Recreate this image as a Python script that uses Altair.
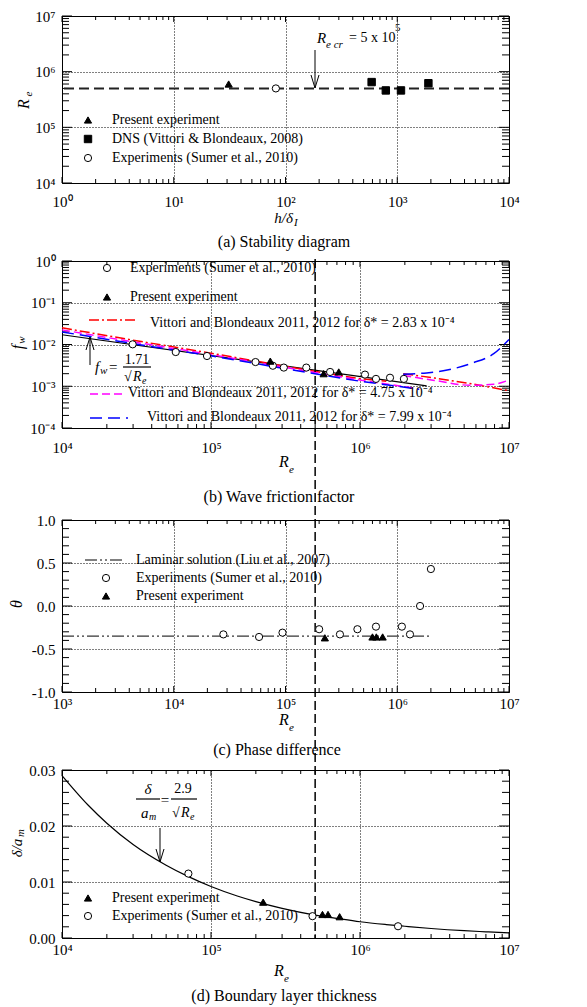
import altair as alt
import pandas as pd

FONT = "Liberation Serif, Times New Roman, serif"

# ---------------- data ----------------
# (a) Stability diagram
a_present_h = [31]
a_present_re = [6.0e5]
a_dns_h = [590, 790, 1080, 1900]
a_dns_re = [6.5e5, 4.6e5, 4.6e5, 6.2e5]
a_sumer_h = [82]
a_sumer_re = [5.0e5]
re_critical = [5e5]

# (b) Wave friction factor
b_sumer_re = [2.98e4, 5.8e4, 9.4e4, 1.99e5, 2.6e5, 3.08e5, 4.36e5, 6.3e5, 1.08e6, 1.28e6, 1.59e6, 1.97e6]
b_sumer_fw = [0.0101, 0.0066, 0.0053, 0.0038, 0.0031, 0.0028, 0.0028, 0.0022, 0.0019, 0.0015, 0.0016, 0.0015]
b_present_re = [2.5e5, 5.7e5, 7.2e5]
b_present_fw = [0.0040, 0.0020, 0.0022]
b_black_re = [1e4, 2.8e6]
b_black_fw = [0.0171, 0.00102]
red_lo_re = [1e4, 3.16e4, 1e5, 3.16e5, 1e6, 1.5e6]
red_lo_fw = [0.0251, 0.0123, 0.0062, 0.0030, 0.00151, 0.00132]
red_hi_re = [1.95e6, 3.16e6, 5.6e6, 1e7]
red_hi_fw = [0.00200, 0.00158, 0.00115, 0.00078]
mag_lo_re = [1e4, 3.16e4, 1e5, 3.16e5, 1e6, 2.45e6]
mag_lo_fw = [0.0224, 0.0112, 0.00575, 0.00282, 0.00141, 0.00087]
mag_hi_re = [1.95e6, 3.16e6, 5.6e6, 7.9e6, 1e7]
mag_hi_fw = [0.00182, 0.00138, 0.00105, 0.00112, 0.00141]
blue_lo_re = [1e4, 3.16e4, 1e5, 3.16e5, 1e6, 2.5e6]
blue_lo_fw = [0.0200, 0.0102, 0.00537, 0.00263, 0.00132, 0.00085]
blue_hi_re = [1.95e6, 2.8e6, 4e6, 5.6e6, 7.9e6, 1e7]
blue_hi_fw = [0.00195, 0.00209, 0.00251, 0.00355, 0.00603, 0.0132]

# (c) Phase difference
c_sumer_re = [2.78e4, 5.8e4, 9.4e4, 2.0e5, 3.07e5, 4.4e5, 6.45e5, 1.1e6, 1.3e6, 1.6e6, 2.0e6]
c_sumer_theta = [-0.33, -0.36, -0.31, -0.27, -0.33, -0.27, -0.24, -0.24, -0.33, 0.0, 0.43]
c_present_re = [2.25e5, 6.0e5, 6.5e5, 7.4e5]
c_present_theta = [-0.37, -0.36, -0.36, -0.36]
c_lam_re = [1e3, 1.96e6]
c_lam_theta = [-0.35, -0.35]

# (d) Boundary layer thickness
d_curve_re = [1e4, 1.5e4, 2e4, 3e4, 5e4, 7e4, 1e5, 1.5e5, 2e5, 3e5, 5e5, 7e5, 1e6,
              1.5e6, 2e6, 3e6, 5e6, 7e6, 1e7]
d_curve = [0.0290, 0.0237, 0.0205, 0.0167, 0.0130, 0.0110, 0.0092, 0.0075, 0.0065, 0.0053,
           0.0041, 0.0035, 0.0029, 0.0024, 0.0021, 0.0017, 0.0013, 0.0011, 0.0009]
d_present_re = [2.24e5, 5.6e5, 6.1e5, 7.3e5]
d_present = [0.0064, 0.0042, 0.0042, 0.0038]
d_sumer_re = [7.05e4, 4.8e5, 1.8e6]
d_sumer = [0.0115, 0.0039, 0.0021]

SUP = {"0": "\u2070", "1": "\u00b9", "2": "\u00b2", "3": "\u00b3", "4": "\u2074", "5": "\u2075",
       "6": "\u2076", "7": "\u2077", "8": "\u2078", "9": "\u2079", "-": "\u207b"}

# ---------------- helpers ----------------
W = 447
HA, HB, HC, HD = 167, 167, 172, 168
GAP_AB, GAP_BC, GAP_CD = 78, 92, 78
ONE = pd.DataFrame({"_": [0]})
MS = 52  # marker size


def sup(n):
    return "".join(SUP[c] for c in str(n))


def pow_expr(exps):
    parts = [f"(round(log(datum.value)/LN10) == {e}) ? '10{sup(e)}'" for e in exps]
    return " : ".join(parts) + " : ''"


def log_major(e0, e1):
    return [10.0 ** e for e in range(e0, e1 + 1)]


def log_minor(e0, e1):
    return [m * 10.0 ** e for e in range(e0, e1) for m in range(2, 10)]


class Panel:
    def __init__(self, xsc, ysc, xvals, xexpr, yvals, yexpr, xpad, H):
        common = dict(title=None, ticks=False, tickSize=0, domain=False, grid=True,
                      gridColor="black", gridDash=[1, 2], gridWidth=1, gridOpacity=1,
                      labelFont=FONT, labelFontSize=15, labelColor="black",
                      labelFlush=False, labelOverlap=False)
        self.xsc, self.ysc, self.H = xsc, ysc, H
        self.xax = alt.Axis(values=xvals, labelExpr=xexpr, labelPadding=xpad, **common)
        self.yax = alt.Axis(values=yvals, labelExpr=yexpr, labelPadding=7, **common)
        self.layers = []

    def X(self, f):
        return alt.X(f, scale=self.xsc, axis=self.xax)

    def Y(self, f):
        return alt.Y(f, scale=self.ysc, axis=self.yax)

    def add(self, *ls):
        self.layers.extend(ls)

    def ticks(self, xmaj, xmin, ymaj, ymin):
        H = self.H
        for vals, L in ((xmaj, 6), (xmin, 4)):
            base = alt.Chart(pd.DataFrame({"v": vals})).mark_rule(color="black", strokeWidth=1)
            self.add(base.encode(x=self.X("v:Q"), y=alt.value(H), y2=alt.value(H - L)),
                     base.encode(x=self.X("v:Q"), y=alt.value(0), y2=alt.value(L)))
        for vals, L in ((ymaj, 10), (ymin, 7)):
            base = alt.Chart(pd.DataFrame({"v": vals})).mark_rule(color="black", strokeWidth=1)
            self.add(base.encode(y=self.Y("v:Q"), x=alt.value(0), x2=alt.value(L)),
                     base.encode(y=self.Y("v:Q"), x=alt.value(W), x2=alt.value(W - L)))

    def scatter(self, xs, ys, shape, open_=False, size=MS):
        df = pd.DataFrame({"x": xs, "y": ys})
        self.add(alt.Chart(df).mark_point(
            shape=shape, filled=True, fill="white" if open_ else "black", stroke="black",
            strokeWidth=1, size=size, opacity=1).encode(x=self.X("x:Q"), y=self.Y("y:Q")))

    def line(self, xs, ys, color, dash=None, w=1.5, interp="linear"):
        df = pd.DataFrame({"x": xs, "y": ys})
        kw = dict(color=color, strokeWidth=w, interpolate=interp)
        if dash:
            kw["strokeDash"] = dash
        self.add(alt.Chart(df).mark_line(**kw).encode(x=self.X("x:Q"), y=self.Y("y:Q")))

    def chart(self):
        return alt.layer(*self.layers).properties(width=W, height=self.H)


def T(s, x, y, size=14, align="left", italic=False, angle=0):
    return alt.Chart(ONE).mark_text(
        text=s, align=align, baseline="middle", font=FONT, fontSize=size,
        fontStyle="italic" if italic else "normal", angle=angle, color="black"
    ).encode(x=alt.value(x), y=alt.value(y))


def S(x1, y1, x2, y2, w=1.0, dash=None, color="black"):
    kw = dict(color=color, strokeWidth=w)
    if dash:
        kw["strokeDash"] = dash
    return alt.Chart(ONE).mark_rule(**kw).encode(
        x=alt.value(x1), y=alt.value(y1), x2=alt.value(x2), y2=alt.value(y2))


def M(shape, x, y, open_=False, size=MS):
    return alt.Chart(ONE).mark_point(
        shape=shape, filled=True, fill="white" if open_ else "black", stroke="black",
        strokeWidth=1, size=size, opacity=1).encode(x=alt.value(x), y=alt.value(y))


def arrow(x, y0, ytip, head=13, half=4):
    d = head if y0 > ytip else -head
    return [S(x, y0, x, ytip), S(x, ytip, x - half, ytip + d), S(x, ytip, x + half, ytip + d)]


def spacer(h):
    return alt.Chart(ONE).mark_point(opacity=0).encode(
        x=alt.value(0), y=alt.value(0)).properties(
        width=W, height=h, view=alt.ViewBackground(stroke="transparent"))


# ---------------- panel (a) ----------------
A = Panel(alt.Scale(type="log", domain=[1, 1e4], nice=False),
          alt.Scale(type="log", domain=[1e4, 1e7], nice=False),
          log_major(0, 4), pow_expr(range(0, 5)), log_major(4, 7), pow_expr(range(4, 8)), 11, HA)
A.ticks(log_major(0, 4), log_minor(0, 4), log_major(4, 7), log_minor(4, 7))
A.add(alt.Chart(pd.DataFrame({"v": re_critical})).mark_rule(
    color="#222", strokeWidth=2, strokeDash=[10, 5]).encode(y=A.Y("v:Q")))
A.add(*arrow(253, 34, 72))
A.add(T("R", 255, 22, 15, italic=True), T("e cr", 264, 29, 11, italic=True),
      T("= 5 x 10", 287, 22, 14), T("5", 333, 12, 11))
A.scatter(a_present_h, a_present_re, "triangle-up")
A.scatter(a_dns_h, a_dns_re, "square", size=55)
A.scatter(a_sumer_h, a_sumer_re, "circle", open_=True)
A.add(M("triangle-up", 26, 104), T("Present experiment", 50, 104),
      M("square", 26, 123, size=55), T("DNS (Vittori & Blondeaux, 2008)", 50, 123),
      M("circle", 26, 142, open_=True), T("Experiments (Sumer et al., 2010)", 50, 142))
A.add(T("h/\u03b4", 231, 202, 15, align="right", italic=True), T("I", 232, 207, 11, italic=True),
      T("R", -38, 88, 16, align="center", italic=True, angle=270),
      T("e", -33, 78, 11, align="center", italic=True, angle=270),
      T("(a) Stability diagram", 222, 226, 16, align="center"))

# ---------------- panel (b) ----------------
B = Panel(alt.Scale(type="log", domain=[1e4, 1e7], nice=False),
          alt.Scale(type="log", domain=[1e-4, 1], nice=False),
          log_major(4, 7), pow_expr(range(4, 8)), log_major(-4, 0), pow_expr(range(-4, 1)), 12, HB)
B.ticks(log_major(4, 7), log_minor(4, 7), log_major(-4, 0), log_minor(-4, 0))
RED, MAG, BLUE = "#ff0000", "#ff00ff", "#0000ff"
DD, MD, BD = [10, 3, 2, 3], [8, 4], [12, 6]
B.line(b_black_re, b_black_fw, "black", w=1.2)
B.line(red_lo_re, red_lo_fw, RED, DD)
B.line(red_hi_re, red_hi_fw, RED, DD)
B.line(mag_lo_re, mag_lo_fw, MAG, MD)
B.line(mag_hi_re, mag_hi_fw, MAG, MD, interp="monotone")
B.line(blue_lo_re, blue_lo_fw, BLUE, BD)
B.line(blue_hi_re, blue_hi_fw, BLUE, BD, interp="monotone")
B.scatter(b_sumer_re, b_sumer_fw, "circle", open_=True)
B.scatter(b_present_re, b_present_fw, "triangle-up")
# vertical Re = 5e5 line running down through panels (b)-(d)
B.add(alt.Chart(pd.DataFrame({"v": re_critical})).mark_rule(
    color="black", strokeWidth=1.5, strokeDash=[9, 4]).encode(
    x=B.X("v:Q"), y=alt.value(-2), y2=alt.value(HB + GAP_BC + HC + GAP_CD + HD)))
B.add(M("circle", 45, 7, open_=True), T("Experiments (Sumer et al., 2010)", 68, 7),
      M("triangle-up", 45, 36), T("Present experiment", 68, 36),
      S(27, 59, 75, 59, 1.5, DD, RED),
      T("Vittori and Blondeaux 2011, 2012 for \u03b4* = 2.83 x 10\u207b\u2074", 88, 62),
      S(28, 133, 61, 133, 1.5, MD, MAG),
      T("Vittori and Blondeaux 2011, 2012 for \u03b4* = 4.75 x 10\u207b\u2074", 66, 132),
      S(28, 157, 66, 157, 1.5, BD, BLUE),
      T("Vittori and Blondeaux 2011, 2012 for \u03b4* = 7.99 x 10\u207b\u2074", 85, 156))
B.add(*arrow(28, 104, 76))
B.add(T("f", 33, 106, 15, italic=True), T("w", 38, 110, 11, italic=True),
      T("=", 47, 106, 15), T("1.71", 75, 99, 14, align="center"),
      S(61, 106, 89, 106, 1.2),
      T("\u221a", 62, 116, 14), T("R", 71, 116, 14, italic=True), T("e", 80, 120, 10, italic=True))
B.add(T("R", 222, 201, 16, align="center", italic=True), T("e", 227, 209, 11, italic=True),
      T("f", -44, 86, 16, align="center", italic=True, angle=270),
      T("w", -40, 79, 11, align="center", italic=True, angle=270),
      T("(b) Wave friction factor", 217, 236, 16, align="center"))

# ---------------- panel (c) ----------------
c_ymaj = [-1.0, -0.5, 0.0, 0.5, 1.0]
c_ymin = [round(-1 + 0.1 * i, 1) for i in range(21) if round(-1 + 0.1 * i, 1) not in c_ymaj]
C = Panel(alt.Scale(type="log", domain=[1e3, 1e7], nice=False),
          alt.Scale(domain=[-1, 1], nice=False, zero=False),
          log_major(3, 7), pow_expr(range(3, 8)), c_ymaj,
          "datum.value < 0 ? '-' + format(-datum.value, '.1f') : format(datum.value, '.1f')", 4, HC)
C.ticks(log_major(3, 7), log_minor(3, 7), c_ymaj, c_ymin)
LD = [12, 3, 2, 3, 2, 3]
C.line(c_lam_re, c_lam_theta, "black", LD, w=1.0)
C.scatter(c_sumer_re, c_sumer_theta, "circle", open_=True)
C.scatter(c_present_re, c_present_theta, "triangle-up")
C.add(S(23, 40, 61, 40, 1.0, LD), T("Laminar solution (Liu et al., 2007)", 74, 40),
      M("circle", 44, 58, open_=True), T("Experiments (Sumer et al., 2010)", 74, 58),
      M("triangle-up", 44, 76), T("Present experiment", 74, 76))
C.add(T("R", 222, 200, 16, align="center", italic=True), T("e", 227, 208, 11, italic=True),
      T("\u03b8", -45, 84, 16, align="center", italic=True, angle=270),
      T("(c) Phase difference", 215, 230, 16, align="center"))

# ---------------- panel (d) ----------------
d_ymaj = [0.0, 0.01, 0.02, 0.03]
d_ymin = [round(0.002 * i, 3) for i in range(16) if i % 5 != 0]
D = Panel(alt.Scale(type="log", domain=[1e4, 1e7], nice=False),
          alt.Scale(domain=[0, 0.03], nice=False, zero=False),
          log_major(4, 7), pow_expr(range(4, 8)), d_ymaj, "format(datum.value, '.2f')", 4, HD)
D.ticks(log_major(4, 7), log_minor(4, 7), d_ymaj, d_ymin)
D.line(d_curve_re, d_curve, "black", w=1.2, interp="monotone")
D.scatter(d_present_re, d_present, "triangle-up")
D.scatter(d_sumer_re, d_sumer, "circle", open_=True)
D.add(M("triangle-up", 26, 128), T("Present experiment", 50, 128),
      M("circle", 26, 146, open_=True), T("Experiments (Sumer et al., 2010)", 50, 146))
D.add(*arrow(98, 58, 92))
D.add(T("\u03b4", 86, 19, 15, align="center", italic=True), S(74, 29, 98, 29, 1.2),
      T("a", 79, 43, 15, italic=True), T("m", 87, 47, 10, italic=True),
      T("=", 103, 30, 15, align="center"),
      T("2.9", 121, 19, 14, align="center"), S(109, 29, 135, 29, 1.2),
      T("\u221a", 110, 43, 14), T("R", 119, 43, 14, italic=True), T("e", 128, 47, 10, italic=True))
D.add(T("R", 217, 201, 16, align="center", italic=True), T("e", 222, 209, 11, italic=True),
      T("\u03b4/a", -45, 78, 15, align="center", italic=True, angle=270),
      T("m", -41, 63, 11, align="center", italic=True, angle=270),
      T("(d) Boundary layer thickness", 222, 226, 16, align="center"))

chart = alt.vconcat(
    A.chart(), spacer(GAP_AB), B.chart(), spacer(GAP_BC), C.chart(), spacer(GAP_CD), D.chart(),
    spacing=0, bounds="flush"
).properties(
    padding={"left": 0, "top": 0, "right": 5, "bottom": 0}, background="white"
).configure_view(stroke="black", strokeWidth=1)

chart.save("out.html", embed_options={"renderer": "svg", "actions": False})
